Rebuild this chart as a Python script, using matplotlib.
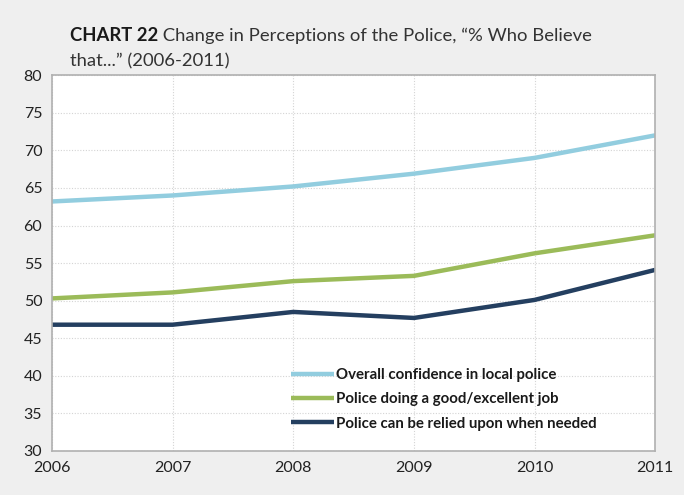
import matplotlib
matplotlib.use("Agg")
import matplotlib.pyplot as plt

years = [2006, 2007, 2008, 2009, 2010, 2011]
overall_confidence = [63.2, 64.0, 65.2, 66.9, 69.0, 72.0]
good_job = [50.3, 51.1, 52.6, 53.3, 56.3, 58.7]
relied_upon = [46.8, 46.8, 48.5, 47.7, 50.1, 54.1]
series_labels = [
    "Overall confidence in local police",
    "Police doing a good/excellent job",
    "Police can be relied upon when needed",
]
y_ticks = [30, 35, 40, 45, 50, 55, 60, 65, 70, 75, 80]

colors = ["#92cddf", "#9bbb59", "#243f60"]

plt.rcParams["font.family"] = ["Lato", "DejaVu Sans"]

fig = plt.figure(figsize=(6.84, 4.95), dpi=100, facecolor="#efefef")
ax = fig.add_axes([0.076, 0.089, 0.882, 0.759])
ax.set_facecolor("white")

for vals, lab, c in zip([overall_confidence, good_job, relied_upon], series_labels, colors):
    ax.plot(years, vals, color=c, lw=3.2, label=lab, solid_capstyle="butt")

ax.set_xlim(years[0], years[-1])
ax.set_ylim(30, 80)
ax.set_xticks(years)
ax.set_yticks(y_ticks)
ax.grid(True, color="#d4d4d4", linestyle=(0, (1, 1.5)), lw=0.8)
ax.set_axisbelow(True)
for s in ax.spines.values():
    s.set_color("#b0b0b0")
    s.set_linewidth(1.2)
ax.tick_params(length=0, labelsize=11.5, colors="#222222", pad=7)

leg = ax.legend(loc="lower left", bbox_to_anchor=(0.373, 0.018), frameon=False,
                handlelength=2.9, handletextpad=0.1, labelspacing=0.68,
                prop={"weight": "bold", "size": 10.8})
for t in leg.get_texts():
    t.set_color("#1a1a1a")

bold = fig.text(0.102, 0.918, "CHART 22", fontsize=13.3, fontweight="bold",
                color="#1a1a1a", va="baseline")
ax.annotate(" Change in Perceptions of the Police, \u201c% Who Believe",
            xy=(1, 0), xycoords=bold, va="bottom", ha="left",
            fontsize=13.3, color="#333333", annotation_clip=False)
fig.text(0.102, 0.866, "that...\u201d (2006-2011)", fontsize=13.3,
         color="#333333", va="baseline")

fig.savefig("out.png", dpi=100, facecolor=fig.get_facecolor())
